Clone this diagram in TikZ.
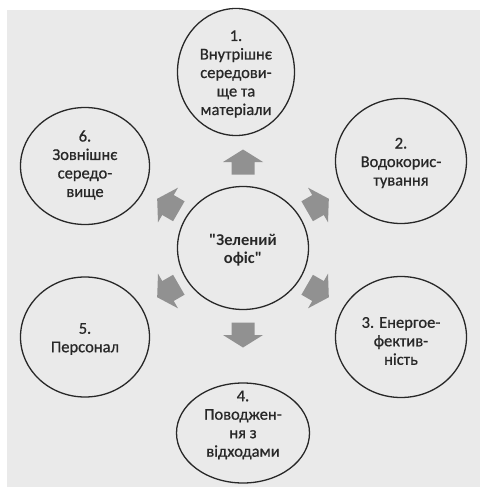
\documentclass[tikz,border=0pt]{standalone}
\usepackage{fontspec}
\setmainfont{Carlito}
\newfontfamily\medfont[FakeBold=0.7]{Carlito}
\newfontfamily\ctrfont[Ligatures=TeXOff]{Carlito}
\usetikzlibrary{shapes.geometric}
\definecolor{bgc}{RGB}{234,234,234}
\definecolor{ink}{RGB}{40,40,40}
\definecolor{arrowc}{RGB}{145,145,145}
\begin{document}
\begin{tikzpicture}[x=1pt,y=-1pt,
  ring/.style={ellipse, draw=ink, line width=1.3pt, inner sep=0pt},
  txt/.style={align=center, text=ink, font=\medfont\fontsize{16.5}{18.5}\selectfont},
  blockarrow/.pic={\fill[arrowc] (-12.5,-11.5) -- (0,-11.5) -- (0,-20) -- (12.5,0) -- (0,20) -- (0,11.5) -- (-12.5,11.5) -- cycle;}
]
\useasboundingbox (0,0) rectangle (480,487);
\fill[white] (0,0) rectangle (480,487);
\fill[bgc] (7,10) rectangle (480,487);

% circles
\node[ring, minimum width=131pt, minimum height=123pt] (c0) at (243,248) {};
\node[ring, minimum width=117pt, minimum height=127pt] (c1) at (236,72) {};
\node[ring, minimum width=131pt, minimum height=125pt] (c2) at (401,161) {};
\node[ring, minimum width=131pt, minimum height=121pt] (c3) at (401,337) {};
\node[ring, minimum width=133pt, minimum height=100pt] (c4) at (243,433) {};
\node[ring, minimum width=129pt, minimum height=120pt] (c5) at (85,337) {};
\node[ring, minimum width=129pt, minimum height=117pt] (c6) at (85,166) {};

% texts
\node[txt, font=\ctrfont\bfseries\fontsize{16.5}{18.5}\selectfont] (t0) at (243,250) {"Зелений\\офіс"};
\node[txt] (t1) at (236,74) {1.\\Внутрішнє\\середови-\\ще та\\матеріали};
\node[txt] (t2) at (401,163) {2.\\Водокорис-\\тування};
\node[txt] (t3) at (401,341) {3. Енергое-\\фектив-\\ність};
\node[txt] (t4) at (243,425) {4.\\Поводжен-\\ня з\\відходами};
\node[txt] (t5) at (85,339) {5.\\Персонал};
\node[txt] (t6) at (85,165) {6.\\Зовнішнє\\середо-\\вище};

% block arrows
\path (243,162) pic[rotate=90] {blockarrow};
\path (318,205) pic[rotate=30] {blockarrow};
\path (318,291) pic[rotate=-30] {blockarrow};
\path (243,335) pic[rotate=-90] {blockarrow};
\path (168,291) pic[rotate=210] {blockarrow};
\path (168,205) pic[rotate=150] {blockarrow};
\end{tikzpicture}
\end{document}
